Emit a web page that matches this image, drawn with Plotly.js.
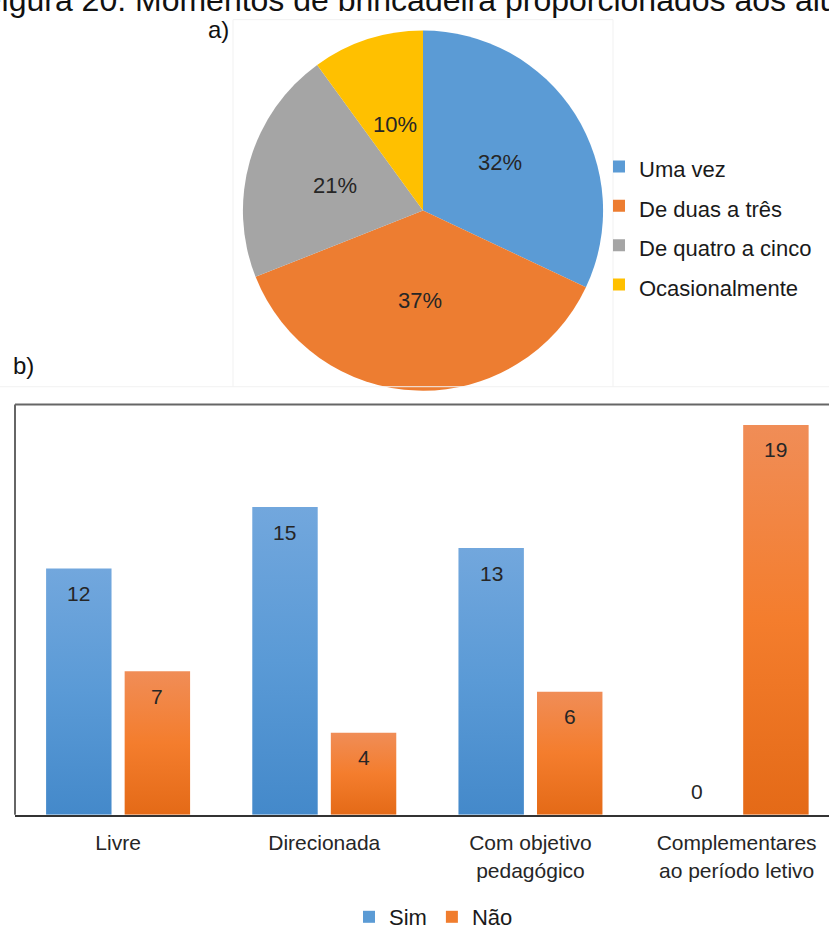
<!DOCTYPE html>
<html><head><meta charset="utf-8">
<script src="https://cdn.plot.ly/plotly-3.0.1.min.js"></script>
<style>html,body{margin:0;padding:0;overflow:hidden;background:#fff}#chart{width:829px;height:938px}</style>
</head><body><div id="chart"></div>
<script>
// ---- data ----
const pieLabels = ['Uma vez', 'De duas a três', 'De quatro a cinco', 'Ocasionalmente'];
const pieValues = [32, 37, 21, 10];
const pieColors = ['#5B9BD5', '#ED7D31', '#A5A5A5', '#FFC000'];

const barCategories = ['Livre', 'Direcionada', 'Com objetivo<br>pedagógico', 'Complementares<br>ao período letivo'];
const simValues = [12, 15, 13, 0];
const naoValues = [7, 4, 6, 19];
const seriesNames = ['Sim', 'Não'];
const seriesColors = ['#5B9BD5', '#F07D2E'];

const titleText = 'Figura 20: Momentos de brincadeira proporcionados aos alunos';

// ---- layout helpers ----
const W = 829, H = 938;
const px = x => x / W, py = y => 1 - y / H;
const FONT = 'Liberation Sans, Arial, sans-serif';
const TXT = '#262626';

const PCX = 423, PCY = 214, PR = 183;

const pie = {
  type: 'pie', labels: pieLabels.map(l => '<span style="font-size:22px">' + l + '</span>'),
  values: pieValues, sort: false, direction: 'clockwise', rotation: 0,
  marker: {colors: pieColors, line: {width: 0}},
  textinfo: 'none',
  domain: {x: [px(PCX - PR), px(PCX + PR)], y: [py(PCY + PR), py(PCY - PR)]},
  legend: 'legend', hoverinfo: 'none'
};

// percentage labels at half radius along each slice's middle angle
const pieTotal = pieValues.reduce((a, b) => a + b, 0);
let cum = 0;
const pieAnns = pieValues.map(v => {
  const mid = (cum + v / 2) / pieTotal * 2 * Math.PI;
  cum += v;
  return {
    x: px(PCX + 0.5 * PR * Math.sin(mid)), y: py(PCY - 0.5 * PR * Math.cos(mid)),
    xref: 'paper', yref: 'paper', xanchor: 'center', yanchor: 'middle', showarrow: false,
    text: Math.round(v / pieTotal * 100) + '%', font: {family: FONT, size: 22, color: TXT}
  };
});

const bars = [simValues, naoValues].map((vals, k) => ({
  type: 'bar', x: barCategories, y: vals, name: seriesNames[k],
  marker: {color: seriesColors[k], line: {width: 0}},
  xaxis: 'x', yaxis: 'y', legend: 'legend2', hoverinfo: 'none'
}));

const slotShift = 39.3;
function labelAnns(vals, shift) {
  return vals.map((v, i) => ({
    x: barCategories[i], y: v, xref: 'x', yref: 'y', xshift: shift,
    yshift: v > 0 ? -25 : 23, text: String(v), showarrow: false,
    font: {family: FONT, size: 21, color: TXT}
  }));
}

const layout = {
  width: W, height: H, margin: {l: 0, r: 0, t: 0, b: 0},
  paper_bgcolor: '#fff', plot_bgcolor: '#fff',
  font: {family: FONT, color: TXT},
  barmode: 'group', bargap: 0.238, bargroupgap: 0.167,
  xaxis: {domain: [px(15), 1], range: [-0.5, 3.448], showgrid: false, zeroline: false,
          showline: true, linecolor: '#333', linewidth: 2.5, ticks: '',
          ticklabelstandoff: 8, tickfont: {family: FONT, size: 21, color: TXT}, fixedrange: true},
  yaxis: {domain: [py(828), py(411)], range: [0, 20], showgrid: false, zeroline: false,
          showticklabels: false, showline: false, fixedrange: true},
  legend: {x: px(599), xanchor: 'left', y: py(144), yanchor: 'top',
           font: {family: FONT, size: 28, color: '#1a1a1a'}, bgcolor: 'rgba(0,0,0,0)',
           itemclick: false, itemdoubleclick: false},
  legend2: {orientation: 'h', x: px(349), xanchor: 'left', y: py(932), yanchor: 'middle',
            font: {family: FONT, size: 22, color: '#1a1a1a'}, bgcolor: 'rgba(0,0,0,0)',
            itemclick: false, itemdoubleclick: false},
  shapes: [
    {type: 'line', xref: 'x domain', yref: 'y domain', x0: 0, x1: 1, y0: 1, y1: 1,
     line: {color: '#666', width: 2}},
    {type: 'line', xref: 'x domain', yref: 'y domain', x0: 0, x1: 0, y0: 0, y1: 1,
     line: {color: '#666', width: 2}},
    {type: 'rect', xref: 'paper', yref: 'paper', x0: px(233), x1: px(613), y0: py(393), y1: py(20),
     line: {color: '#f1f1f1', width: 1}},
    {type: 'line', xref: 'paper', yref: 'paper', x0: 0, x1: px(233), y0: py(393), y1: py(393),
     line: {color: '#f1f1f1', width: 1}},
    {type: 'line', xref: 'paper', yref: 'paper', x0: px(613), x1: 1, y0: py(393), y1: py(393),
     line: {color: '#f1f1f1', width: 1}}
  ],
  annotations: [
    {text: titleText, xref: 'paper', yref: 'paper', x: px(-20), y: 1, xanchor: 'left', yanchor: 'middle',
     showarrow: false, font: {family: FONT, size: 32, color: '#111'}},
    {text: 'a)', xref: 'paper', yref: 'paper', x: px(218), y: py(30), xanchor: 'center', yanchor: 'middle',
     showarrow: false, font: {family: FONT, size: 24, color: '#111'}},
    {text: 'b)', xref: 'paper', yref: 'paper', x: px(23), y: py(371), xanchor: 'center', yanchor: 'middle',
     showarrow: false, font: {family: FONT, size: 24, color: '#111'}}
  ].concat(pieAnns, labelAnns(simValues, -slotShift), labelAnns(naoValues, slotShift))
};

Plotly.newPlot('chart', [pie].concat(bars), layout, {staticPlot: true, displayModeBar: false}).then(gd => {
  const svg = gd.querySelector('.main-svg');
  const ns = 'http://www.w3.org/2000/svg';
  const defs = svg.querySelector('defs');
  const grads = [['#72A7DD', '#5A9AD6', '#4489CA'], ['#F08D57', '#F47D2D', '#E46A17']];
  grads.forEach((stops, i) => {
    const g = document.createElementNS(ns, 'linearGradient');
    g.setAttribute('id', 'bargrad' + i);
    g.setAttribute('x1', '0'); g.setAttribute('y1', '0'); g.setAttribute('x2', '0'); g.setAttribute('y2', '1');
    stops.forEach((c, j) => {
      const s = document.createElementNS(ns, 'stop');
      s.setAttribute('offset', (j / (stops.length - 1) * 100) + '%');
      s.setAttribute('stop-color', c);
      g.appendChild(s);
    });
    defs.appendChild(g);
  });
  gd.querySelectorAll('.barlayer .trace').forEach((tr, i) => {
    tr.querySelectorAll('path').forEach(p => { p.style.fill = 'url(#bargrad' + i + ')'; });
  });
});
</script>
</body></html>
